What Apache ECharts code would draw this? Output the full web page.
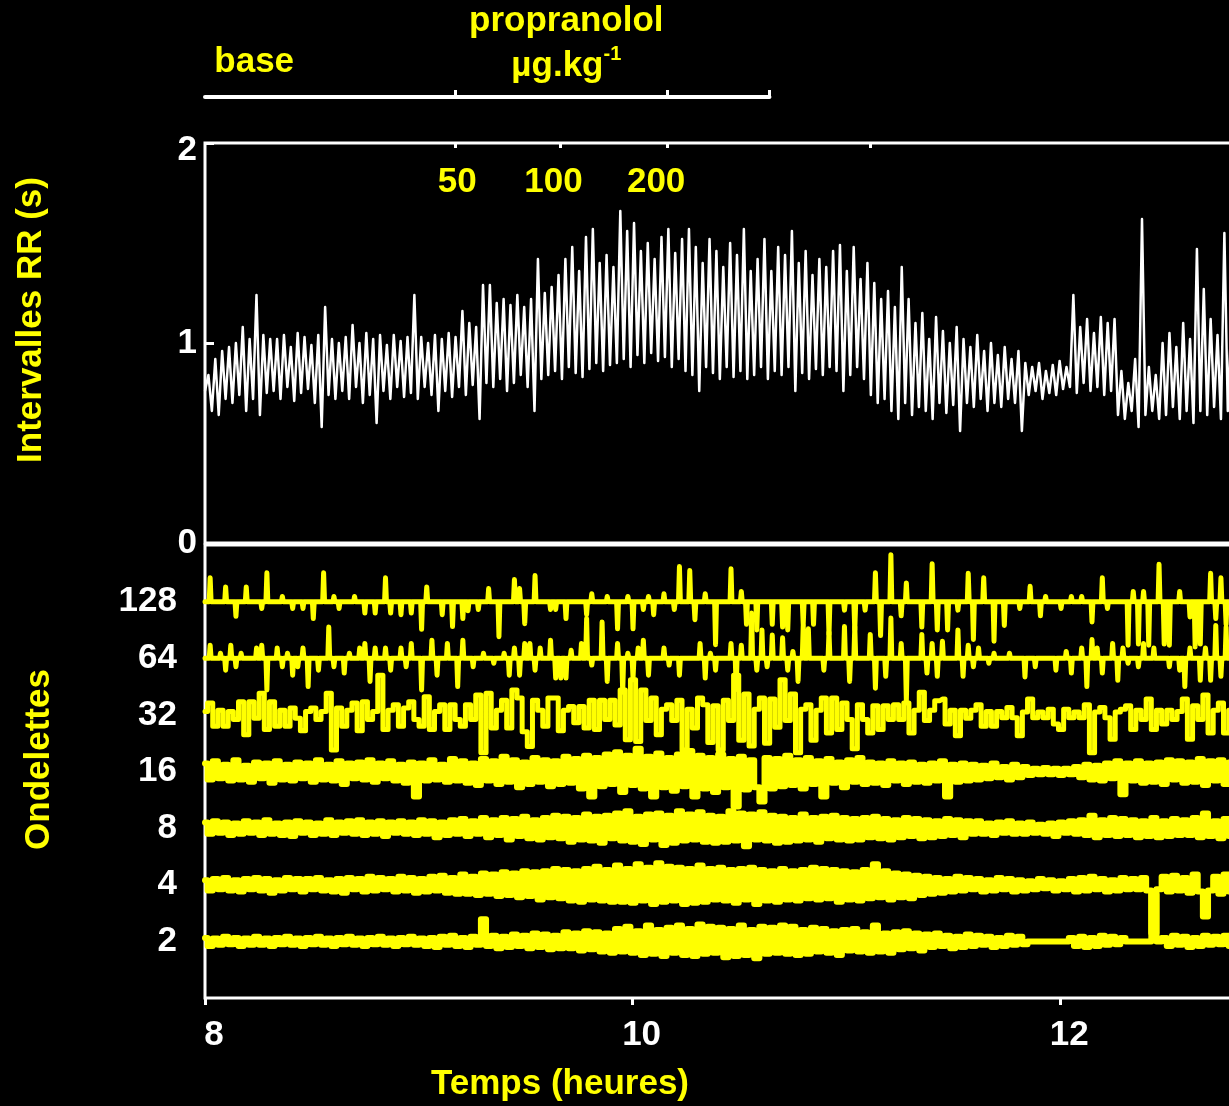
<!DOCTYPE html>
<html>
<head>
<meta charset="utf-8">
<script src="https://cdn.jsdelivr.net/npm/echarts@6/dist/echarts.min.js"></script>
<style>
  html, body { margin: 0; padding: 0; background: #000; overflow: hidden; }
  #chart { width: 1262px; height: 1106px; }
</style>
</head>
<body>
<div id="chart"></div>
<script>
// Recording span (hours); every trace is sampled evenly over it
const tStart = 8;
const tEnd = 12.8;

// RR intervals (s), successive beats alternating short/long
const rr = [
  0.76,0.84,0.66,0.92,0.64,0.96,0.72,0.98,0.70,1.00,0.74,1.08,0.66,1.02,0.72,1.24,0.64,1.04,0.75,1.02,
  0.76,1.02,0.72,1.04,0.78,0.98,0.71,1.05,0.75,1.03,0.77,0.99,0.70,1.04,0.58,1.18,0.74,1.02,0.72,1.00,
  0.76,1.03,0.72,1.09,0.78,1.00,0.70,1.05,0.74,1.02,0.60,1.04,0.76,0.99,0.72,1.04,0.78,1.01,0.73,1.03,
  0.75,1.24,0.72,1.03,0.78,1.00,0.74,1.04,0.66,1.02,0.76,1.05,0.73,1.03,0.78,1.16,0.74,1.10,0.79,1.08,
  0.62,1.29,0.80,1.29,0.78,1.20,0.82,1.22,0.76,1.19,0.80,1.24,0.84,1.18,0.78,1.22,0.66,1.42,0.82,1.25,
  0.84,1.28,0.86,1.34,0.82,1.42,0.88,1.48,0.85,1.36,0.83,1.53,0.87,1.57,0.90,1.40,0.86,1.44,0.89,1.38,
  0.90,1.66,0.92,1.56,0.88,1.60,0.94,1.46,0.90,1.50,0.95,1.42,0.91,1.53,0.93,1.57,0.88,1.45,0.92,1.52,
  0.86,1.57,0.84,1.48,0.76,1.40,0.88,1.52,0.85,1.46,0.82,1.38,0.88,1.50,0.83,1.44,0.86,1.57,0.82,1.36,
  0.84,1.42,0.88,1.52,0.82,1.36,0.86,1.48,0.84,1.44,0.88,1.56,0.76,1.40,0.85,1.46,0.82,1.34,0.87,1.42,
  0.84,1.38,0.88,1.46,0.86,1.49,0.76,1.36,0.84,1.48,0.88,1.32,0.82,1.40,0.74,1.30,0.70,1.22,0.72,1.26,
  0.66,1.18,0.62,1.38,0.70,1.22,0.64,1.10,0.68,1.15,0.66,1.02,0.62,1.13,0.70,1.06,0.65,1.00,0.69,1.08,
  0.56,1.02,0.70,0.98,0.68,1.04,0.72,0.96,0.66,1.00,0.70,0.94,0.68,0.98,0.72,0.92,0.70,0.96,0.56,0.90,
  0.74,0.88,0.76,0.90,0.72,0.86,0.75,0.89,0.74,0.91,0.77,0.88,0.78,1.24,0.75,1.08,0.80,1.12,0.76,1.05,
  0.78,1.13,0.74,1.10,0.76,1.12,0.64,0.86,0.62,0.80,0.66,0.92,0.58,1.62,0.64,0.88,0.66,0.84,0.62,1.00,
  0.64,1.05,0.68,0.98,0.62,1.10,0.66,1.02,0.60,1.47,0.66,1.27,0.64,1.12,0.68,1.04,0.62,1.55,0.66,1.10
];

// Wavelet detail coefficients per scale (hundredths of the row spacing)
const w128 = [
  0,42,0,0,26,0,-26,0,26,0, 0,-12,51,0,0,9,0,-12,0,-12, 0,-30,0,51,0,9,-12,0,0,9, 0,-20,0,-20,0,42,-20,0,-23,0,
  -20,0,-49,26,0,0,-23,0,-44,0, -30,-16,0,-14,0,23,0,-62,0,0, 39,23,-39,0,46,0,0,-14,-14,0, -30,0,0,0,-23,14,0,0,9,0,
  -48,0,9,-48,0,-14,9,-23,0,14, 0,-14,62,0,55,-32,0,14,0,-76, 0,0,58,0,18,-40,0,-50,0,0, -40,0,-45,-50,0,0,-40,0,-40,0,
  0,-58,0,0,-15,0,-50,0,-15,0, 51,-60,0,83,0,-25,33,0,0,-45, 0,67,-50,0,-50,0,-15,0,50,-67, 0,42,0,-70,0,-42,0,0,-12,0,
  27,0,-25,9,0,0,-12,0,9,0, 9,0,-36,0,42,-12,0,0,0,-77, 18,-75,18,-77,0,66,-75,-77,0,18, 0,-27,-80,-75,0,50,-30,42,-40,0
];
const w64 = [
  0,23,0,9,-21,23,-15,9,0,0, 18,23,-56,0,18,-15,9,-30,-15,18, -50,0,-21,0,55,-15,0,-26,9,0, 18,26,-41,18,0,18,-21,0,18,-15,
  26,0,-56,0,32,-30,0,26,0,-50, 32,0,-15,0,9,0,-9,0,9,-30, 18,-30,26,26,-21,18,0,32,-35,-35, -35,14,0,26,70,-12,0,64,-41,0,
  26,-60,9,-35,18,32,-30,0,0,18, -12,0,-30,0,0,0,26,-35,9,-21, 0,0,26,-55,23,0,80,-21,50,-15, 41,0,36,-21,12,-41,58,52,0,0,
  -21,46,0,0,56,-41,56,0,0,42, -53,0,-32,71,0,26,-75,0,0,42, -26,26,-32,30,0,0,50,-32,23,-15, 18,0,-9,9,0,0,9,0,0,-33,
  0,-15,0,0,0,-21,0,12,-26,0, 18,-50,33,18,-26,0,26,-39,18,-9, 0,-15,26,0,18,0,0,-15,0,-21, -50,18,0,-39,18,-39,58,-32,55,0
];
const w32 = [
  6,21,-20,8,-20,6,-8,23,-35,23, -6,38,-26,23,-20,8,-20,12,-6,-28, 6,12,-8,6,38,-62,12,-20,8,21, -28,23,-8,6,70,-26,8,18,-20,12,
  23,-8,-20,32,-26,6,18,-26,18,-8, -20,18,-8,35,-67,38,-23,8,26,-23, 44,30,-30,-56,26,8,-20,30,30,-28, 8,15,-14,15,-23,26,-26,26,-8,26,
  -18,44,-44,62,-47,44,-10,30,-35,10, 18,-10,26,-62,10,-23,30,18,-49,16, -62,26,-10,70,-45,37,-55,10,30,-50, 28,-22,62,-10,37,-67,10,18,-45,8,
  30,-32,30,-26,21,-8,-60,18,-8,-32, 16,-26,16,-8,18,-8,21,-32,8,40, -10,8,25,28,-16,8,-37,8,-6,8, 18,-20,6,-20,6,-5,13,-5,-37,5,
  28,-5,5,-5,10,-16,-26,10,-5,5, -5,18,-67,5,13,-5,-43,5,10,16, -26,8,-8,28,-26,8,-16,8,-8,6, 28,-43,16,-8,35,-32,8,21,-32,8
];
const w16 = [
  14,-14,18,-12,12,-16,20,-14,10,-18, 16,-12,14,-20,18,-14,12,-16,16,-12, 14,-18,20,-14,12,-16,18,-22,14,-12, 16,-14,20,-18,14,-12,18,-16,12,-20,
  16,-44,14,-16,20,-14,12,-18,22,-16, 18,-20,14,-24,22,-16,18,-22,26,-18, 20,-28,16,-22,24,-18,20,-26,18,-22, 26,-20,22,-30,28,-44,24,-26,30,-22,
  34,-36,28,-24,40,-30,26,-44,32,-28, 24,-34,30,-26,36,-44,28,-30,24,-36, 30,-28,22,-62,26,-32,20,-28,-53,24, -30,22,-26,28,-24,20,-30,24,-22,18,
  -44,22,-20,16,-28,20,-18,24,-22,16, -20,14,-24,18,-16,14,-22,16,-18,12, -20,14,-16,18,-44,12,-18,14,-16,12, -14,10,-12,14,-10,8,-14,12,-10,8,
  -6,5,-5,6,-5,5,-6,5,-5,8, -10,12,-14,10,-16,14,-12,18,-40,14, -16,18,-20,14,-18,16,-22,20,-14,18, -20,16,-18,22,-24,18,-16,20,-22,16
];
const w8 = [
  10,-10,12,-8,10,-12,8,-10,12,-8, 10,-12,14,-10,8,-12,10,-14,12,-8, 10,-12,8,-10,14,-12,10,-8,12,-10, 14,-12,10,-10,12,-14,10,-8,12,-10,
  10,-12,14,-10,12,-16,10,-12,14,-10, 16,-14,12,-10,18,-16,14,-12,18,-20, 16,-14,20,-18,14,-20,18,-16,22,-18, 20,-24,18,-20,24,-22,20,-26,22,-18,
  26,-22,30,-24,20,-28,24,-20,26,-30, 22,-26,30,-22,24,-20,28,-24,22,-26, 20,-24,30,-22,26,-32,24,-20,28,-22, 22,-26,20,-24,18,-22,24,-20,18,-24,
  20,-18,22,-20,18,-22,16,-20,18,-16, 20,-18,16,-20,14,-16,18,-14,16,-18, 14,-16,12,-14,16,-12,14,-16,12,-10, 12,-10,8,-12,10,-8,12,-10,8,-10,
  10,-8,6,-10,8,-14,10,-8,12,-10, 14,-12,22,-16,14,-12,18,-14,16,-12, 14,-16,12,-14,18,-16,12,-14,16,-12, 14,-12,18,-16,26,-14,12,-18,16,-14
];
const w4 = [
  8,-10,10,-8,12,-10,8,-12,10,-8, 12,-10,10,-14,8,-10,12,-8,10,-12, 10,-8,12,-10,8,-12,10,-14,12,-8, 10,-12,14,-10,12,-8,10,-12,14,-10,
  12,-14,10,-12,14,-10,16,-14,12,-16, 18,-16,14,-18,20,-16,18,-20,22,-18, 20,-22,24,-20,22,-26,24,-22,28,-24, 26,-28,24,-30,28,-26,32,-28,26,-30,
  34,-30,28,-32,36,-28,30,-34,38,-30, 32,-28,30,-34,28,-32,34,-30,28,-26, 30,-28,26,-32,28,-26,30,-34,26,-28, 24,-30,28,-26,24,-28,26,-24,30,-26,
  28,-24,26,-30,24,-26,22,-28,26,-24, 36,-22,24,-26,20,-22,18,-24,16,-18, 14,-16,12,-14,10,-12,14,-10,12,-8, 10,-12,8,-10,12,-8,10,-12,8,-10,
  6,-8,10,-6,8,-10,6,-8,10,-12, 12,-10,14,-8,10,-12,8,-10,12,-8, 10,-8,12,-10,-85,-8,14,-12,16,-10, 12,-14,18,-12,-56,-10,14,-16,18,-12
];
const w2 = [
  6,-8,5,-6,8,-5,6,-8,5,-6, 8,-6,5,-8,6,-5,8,-6,5,-8, 6,-5,8,-6,5,-8,6,-5,8,-6, 5,-8,6,-5,8,-6,5,-8,6,-5,
  8,-6,5,-8,6,-10,8,-6,10,-8, 6,-10,8,-6,39,-8,10,-12,8,-10, 12,-8,10,-12,14,-10,12,-14,10,-12, 16,-12,14,-16,18,-14,16,-18,14,-20,
  22,-18,26,-20,18,-24,28,-22,20,-26, 24,-20,28,-24,22,-26,30,-22,26,-20, 24,-28,22,-26,28,-24,20,-30,26,-22, 24,-20,28,-22,26,-24,20,-22,24,-18,
  22,-20,18,-24,20,-16,22,-18,16,-20, 28,-18,14,-20,16,-14,18,-12,14,-16, 12,-10,14,-8,10,-12,8,-10,12,-8, 10,-6,8,-10,6,-8,10,-6,8,-5,
  0,0,0,0,0,0,0,0,6,-8, 8,-10,6,-8,10,-6,8,-5,6,0, 0,0,0,0,83,0,6,-8,10,-6, 8,-10,6,-8,10,-6,8,-5,10,-8
];

// Scale labels, fine to coarse
const scaleLabels = ['2', '4', '8', '16', '32', '64', '128'];
const waveletRows = [w2, w4, w8, w16, w32, w64, w128];

// Protocol: baseline, then propranolol doses (µg/kg)
const doseLabels = ['50', '100', '200'];
const doseLabelTimes = [9.18, 9.63, 10.11];
const doseTickTimes = [9.17, 9.66, 10.16, 11.11];
const phaseLabelTimes = [8.23, 9.69];
const protocolTicks = [9.17, 10.16, 10.64];
const protocolEnd = 10.64;
const hourTicks = [8, 10, 12];

const WHITE = '#ffffff';
const YELLOW = '#ffff00';
const FONT = '"Liberation Sans", Arial, Helvetica, sans-serif';
const textBase = { fontFamily: FONT, fontWeight: 'bold', fontSize: 35 };

function sampleTimes(n) {
  const dt = (tEnd - tStart) / (n - 1);
  return Array.from({ length: n }, (_, i) => tStart + i * dt);
}

function onTimeline(values) {
  const ts = sampleTimes(values.length);
  return values.map((v, i) => [ts[i], v]);
}

// Coarse scales: each coefficient drawn as a narrow spike off the row's zero line
function spikes(values, base) {
  const ts = sampleTimes(values.length);
  const half = 0.18 * (tEnd - tStart) / (values.length - 1);
  const pts = [];
  values.forEach((c, i) => {
    if (c === 0) { pts.push([ts[i], base]); return; }
    pts.push([ts[i] - half, base], [ts[i], base + c / 100], [ts[i] + half, base]);
  });
  return pts;
}

function nearestIndex(list, v) {
  let best = 0;
  list.forEach((x, i) => { if (Math.abs(x - v) < Math.abs(list[best] - v)) best = i; });
  return best;
}

const chart = echarts.init(document.getElementById('chart'), null, { renderer: 'canvas' });

const PLOT_LEFT = 205;
const PX_PER_HOUR = 213.8;
const PLOT_WIDTH = 1054;
const HOUR_MAX = 8 + PLOT_WIDTH / PX_PER_HOUR;

// rows 2..32 as stepped traces, 64 and 128 as spikes on a flat line
const rowSeries = waveletRows.map((row, k) => {
  const base = k + 1;
  const coarse = k >= 5;
  return {
    type: 'line',
    xAxisIndex: 1,
    yAxisIndex: 1,
    step: coarse ? false : 'middle',
    showSymbol: false,
    silent: true,
    data: coarse ? spikes(row, base) : onTimeline(row.map(c => base + c / 100)),
    lineStyle: { color: YELLOW, width: coarse ? 5 : (k === 4 ? 5 : 6), join: 'round', cap: 'round' },
    z: 3
  };
});

chart.setOption({
  backgroundColor: '#000000',
  animation: false,
  grid: [
    { left: PLOT_LEFT, top: 143, width: PLOT_WIDTH, height: 400,
      show: true, borderColor: WHITE, borderWidth: 3, backgroundColor: 'transparent' },
    { left: PLOT_LEFT, top: 545, width: PLOT_WIDTH, height: 453,
      show: true, borderColor: WHITE, borderWidth: 3, backgroundColor: 'transparent' },
    { left: PLOT_LEFT, top: 97, width: (protocolEnd - tStart) * PX_PER_HOUR, height: 10 }
  ],
  xAxis: [
    {
      gridIndex: 0, type: 'value', position: 'top', min: 8, max: HOUR_MAX,
      axisLine: { show: false, onZero: false },
      splitLine: { show: false },
      axisTick: { show: true, inside: true, length: 5, customValues: doseTickTimes,
                  lineStyle: { color: WHITE, width: 3 } },
      axisLabel: { show: true, inside: true, margin: 22, customValues: doseLabelTimes,
                   formatter: v => doseLabels[nearestIndex(doseLabelTimes, v)],
                   color: YELLOW, ...textBase }
    },
    {
      gridIndex: 1, type: 'value', position: 'bottom', min: 8, max: HOUR_MAX, interval: 2,
      axisLine: { show: false, onZero: false },
      splitLine: { show: false },
      axisTick: { show: true, length: 7, customValues: hourTicks,
                  lineStyle: { color: WHITE, width: 3 } },
      axisLabel: { show: true, margin: 20, customValues: hourTicks,
                   padding: [0, 0, 0, 18], color: WHITE, ...textBase },
      name: 'Temps (heures)', nameLocation: 'middle', nameGap: 69,
      nameTextStyle: { color: YELLOW, ...textBase, padding: [0, 344, 0, 0] }
    },
    {
      gridIndex: 2, type: 'value', position: 'top', min: 8, max: protocolEnd,
      axisLine: { show: true, onZero: false, lineStyle: { color: WHITE, width: 4 } },
      splitLine: { show: false },
      axisTick: { show: true, length: 7, customValues: protocolTicks,
                  lineStyle: { color: WHITE, width: 3 } },
      axisLabel: {
        show: true, margin: 8, customValues: phaseLabelTimes,
        formatter: v => nearestIndex(phaseLabelTimes, v) === 0
          ? '{b|base}' : '{p|propranolol}\n{p|µg.kg}{s|-1}',
        rich: {
          b: { color: YELLOW, ...textBase, lineHeight: 45, padding: [0, 0, 8, 0] },
          p: { color: YELLOW, ...textBase, lineHeight: 45 },
          s: { color: YELLOW, fontFamily: FONT, fontWeight: 'bold', fontSize: 20,
               lineHeight: 45, verticalAlign: 'top', padding: [0, 0, 14, 0] }
        }
      }
    }
  ],
  yAxis: [
    {
      gridIndex: 0, type: 'value', min: 0, max: 2, interval: 1,
      axisLine: { show: false },
      splitLine: { show: false },
      axisTick: { show: true, inside: true, length: 9, lineStyle: { color: WHITE, width: 3 } },
      axisLabel: { show: true, margin: 8, color: WHITE, ...textBase,
                   formatter: v => (v === 2 ? '{top|2}' : String(v)),
                   rich: { top: { color: WHITE, ...textBase, padding: [14, 0, 0, 0] } } },
      name: 'Intervalles RR (s)', nameLocation: 'middle', nameGap: 156,
      nameTextStyle: { color: YELLOW, ...textBase, padding: [0, 0, 0, 46] }
    },
    {
      gridIndex: 1, type: 'value', min: 0, max: 8, interval: 1,
      axisLine: { show: false },
      splitLine: { show: false },
      axisTick: { show: false },
      axisLabel: { show: true, margin: 28, color: WHITE, ...textBase,
                   formatter: v => (v >= 1 && v <= 7) ? scaleLabels[v - 1] : '' },
      name: 'Ondelettes', nameLocation: 'middle', nameGap: 148,
      nameTextStyle: { color: YELLOW, ...textBase, padding: [0, 0, 0, 24] }
    },
    {
      gridIndex: 2, type: 'value', min: 0, max: 1, show: false
    }
  ],
  series: [
    {
      type: 'line',
      xAxisIndex: 0,
      yAxisIndex: 0,
      showSymbol: false,
      silent: true,
      data: onTimeline(rr),
      lineStyle: { color: WHITE, width: 2.5, join: 'round' },
      z: 3
    },
    ...rowSeries
  ]
});
</script>
</body>
</html>
